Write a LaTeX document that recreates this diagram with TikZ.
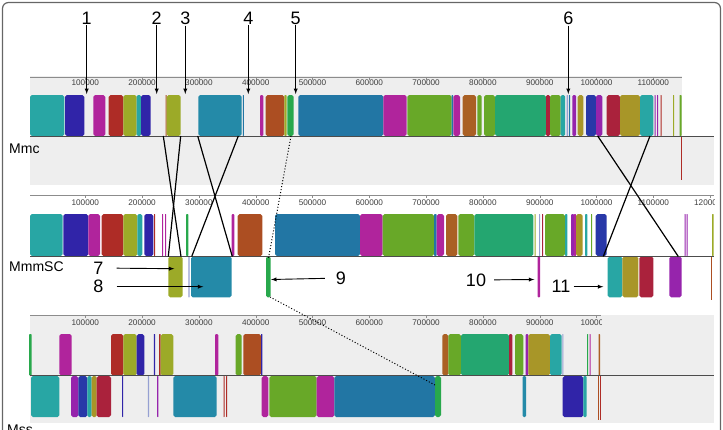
\documentclass[tikz,border=0pt]{standalone}
\usepackage{fontspec}
\setmainfont{Liberation Sans}
\usetikzlibrary{arrows}

\definecolor{tealc}{RGB}{40,166,164}
\definecolor{indigoc}{RGB}{48,36,168}
\definecolor{magc}{RGB}{176,36,156}
\definecolor{redc}{RGB}{174,44,38}
\definecolor{olivec}{RGB}{156,170,40}
\definecolor{steelc}{RGB}{36,138,168}
\definecolor{bluec}{RGB}{34,118,164}
\definecolor{orangec}{RGB}{172,78,34}
\definecolor{greenc}{RGB}{40,168,76}
\definecolor{crimsonc}{RGB}{170,34,60}
\definecolor{seac}{RGB}{36,166,112}
\definecolor{grassc}{RGB}{104,168,40}
\definecolor{mustc}{RGB}{168,150,40}
\definecolor{purpc}{RGB}{150,36,172}
\definecolor{royalc}{RGB}{40,56,168}
\definecolor{brownc}{RGB}{170,96,36}
\definecolor{paleblue}{RGB}{150,160,210}
\definecolor{bgc}{RGB}{238,238,238}

\tikzset{
  ticklab/.style={font=\fontsize{8.2}{9}\selectfont, text=black!75, inner sep=0pt},
  numlab/.style={font=\fontsize{18}{20}\selectfont, inner sep=1pt},
  genome/.style={font=\fontsize{14}{16}\selectfont, anchor=west, inner sep=0pt},
  numarr/.style={-latex, line width=0.9pt},
  synteny/.style={line width=1.2pt},
  moved/.style={dotted, line width=1pt}
}

\begin{document}
\begin{tikzpicture}[x=1pt,y=-1pt]
\useasboundingbox (0,0) rectangle (723,429);

% Frame
\draw[black!60, line width=1.2pt, rounded corners=6pt] (2.5,2.5) rectangle (720.5,445);

% Backgrounds
\fill[bgc] (30,76) rectangle (682,136);
\fill[bgc] (30,136) rectangle (714,185);
\fill[bgc] (30,315) rectangle (714,423);

% Rulers
\draw[black!45] (30,77) -- (682,77);
\draw[black!45] (30,195) -- (714,195);
\draw[black!45] (30,315) -- (601,315);
\foreach \i in {1,...,11} \draw[black!45] ({28.5+56.8*\i},77) -- ++(0,3);
\foreach \i in {1,...,12} \draw[black!45] ({28.5+56.8*\i},195) -- ++(0,3);
\foreach \i in {1,...,10} \draw[black!45] ({28.5+56.8*\i},315) -- ++(0,3);
\foreach \i in {1,...,11} \node[ticklab] (ra\i) at ({28.5+56.8*\i},82.5) {\i00000};
\begin{scope}
\clip (30,190) rectangle (714,210);
\foreach \i in {1,...,12} \node[ticklab] (rb\i) at ({28.5+56.8*\i},202.5) {\i00000};
\end{scope}
\begin{scope}
\clip (30,310) rectangle (601,330);
\foreach \i in {1,...,10} \node[ticklab] (rc\i) at ({28.5+56.8*\i},322.5) {\i00000};
\end{scope}

% Mmc blocks
\foreach \a/\b/\c in {30/64.3/tealc, 65/84.3/indigoc, 93.3/105.3/magc, 108.7/123.3/redc,
  123.3/136.7/olivec, 136.7/141/tealc, 141/150.7/indigoc, 165.5/166.7/orangec, 166.7/180.7/olivec,
  198.3/241.7/steelc, 242.8/243.8/bluec, 260/263.3/magc, 265.7/284.3/orangec, 284.3/286.7/olivec,
  287.3/293.7/greenc, 298.3/383.3/bluec, 383.3/406.7/magc, 407.3/451.7/grassc, 451.7/453/bluec,
  453.3/460/magc, 462.7/476/brownc, 477.3/481.7/grassc, 484/495/grassc, 495/546/seac,
  546/550/crimsonc, 550/560.7/grassc, 560.7/565/tealc, 566.5/568/paleblue, 569/570/bluec,
  572.3/576/purpc, 577.7/583.3/mustc, 586/596/royalc, 596/602.3/purpc, 606.7/620/crimsonc,
  620/640/mustc, 640/653.3/tealc, 654.5/655.5/purpc, 657/658/purpc, 660.5/661.5/redc,
  673/674/olivec, 679.5/681.5/grassc}
  {\pgfmathsetmacro\rc{min(1.8,(\b-\a)/3)}
   \fill[\c, rounded corners=\rc pt] (\a,95) rectangle (\b,136);}
\fill[redc] (680.5,136) rectangle (681.5,180);

% MmmSC blocks
\foreach \a/\b/\c in {30/62.7/tealc, 63.3/88.3/indigoc, 88.3/100/magc, 101.7/123.3/redc,
  123.3/137.3/olivec, 137.3/142.3/tealc, 144.3/153.3/indigoc, 154/155/redc, 162/163/magc,
  165/166/magc, 186/188.3/greenc, 231.7/234.3/magc, 237.7/262.3/orangec, 275/360/bluec,
  360/382.7/magc, 382.7/434/grassc, 434/436.7/bluec, 436.7/444/magc, 446/457.3/brownc,
  458.3/474.3/grassc, 474.3/533.3/seac, 534.5/535.5/olivec, 539/540/paleblue, 542/543/crimsonc,
  545/565/grassc, 565/567.3/tealc, 571/574/purpc, 574/576/magc, 576/582.7/mustc,
  585/587.3/tealc, 591/592/grassc, 595.7/606.7/royalc, 684.5/685.5/purpc, 686.5/687.5/purpc,
  712/713.5/olivec}
  {\pgfmathsetmacro\rc{min(1.8,(\b-\a)/3)}
   \fill[\c, rounded corners=\rc pt] (\a,214) rectangle (\b,256);}
\foreach \a/\b/\c in {168.3/182.7/olivec, 188.3/189.7/paleblue, 191/231.7/steelc,
  266/270.7/greenc, 537.7/540/magc, 607.7/622.3/tealc, 622.3/638.3/mustc,
  639.3/653.3/crimsonc, 669.3/681.7/purpc}
  {\pgfmathsetmacro\rc{min(1.8,(\b-\a)/3)}
   \fill[\c, rounded corners=\rc pt] (\a,256.5) rectangle (\b,297.3);}
\fill[orangec] (711,256) rectangle (712,300);

% Mss blocks
\foreach \a/\b/\c in {29/31.7/greenc, 59.3/71.7/magc, 111/123.3/redc, 123.3/136.7/olivec,
  136.7/144.3/indigoc, 153.8/155/indigoc, 159/160.7/redc, 160.7/173.3/olivec, 215/218.3/magc,
  235.7/241.7/grassc, 243.3/261/orangec, 261/262.3/indigoc, 442.3/448.3/brownc,
  448.3/461/grassc, 461/509/seac, 509/512.3/crimsonc, 515/523.3/grassc, 525.7/528.3/purpc,
  528.3/550/mustc, 550/561.7/tealc, 562.3/563.3/paleblue, 587.2/588.2/greenc,
  589.5/590.5/magc, 598.5/600/brownc}
  {\pgfmathsetmacro\rc{min(1.8,(\b-\a)/3)}
   \fill[\c, rounded corners=\rc pt] (\a,334) rectangle (\b,375.5);}
\foreach \a/\b/\c in {31/59.3/tealc, 71/78.3/purpc, 78.3/87.3/royalc, 87.3/91.7/tealc,
  91.7/96.7/mustc, 96.7/111/crimsonc, 122.2/123.2/indigoc, 147.8/149/paleblue,
  157.2/158.4/purpc, 173.3/216.7/steelc, 223.5/224.5/redc, 226.2/227.2/redc,
  261.7/268.3/magc, 269.3/316.7/grassc, 316.7/334.3/magc, 334.3/435/bluec, 435/441/greenc,
  522.7/526/steelc, 562.7/583.3/indigoc, 583.3/586.7/tealc}
  {\pgfmathsetmacro\rc{min(1.8,(\b-\a)/3)}
   \fill[\c, rounded corners=\rc pt] (\a,376) rectangle (\b,417);}
\fill[orangec] (597.5,375.5) rectangle (598.5,420);
\fill[redc] (599.7,375.5) rectangle (600.7,420);

% Middle lines
\draw[black!70] (30,136) -- (714,136);
\draw[black!70] (30,256) -- (714,256);
\draw[black!70] (30,375.5) -- (714,375.5);

% Synteny links
\draw[synteny] (163.3,136) -- (181,256.5);
\draw[synteny] (180.7,136) -- (168.3,256.5);
\draw[synteny] (197.7,136) -- (232.3,256.5);
\draw[synteny] (238.3,136) -- (191.7,256.5);
\draw[synteny] (597.7,136) -- (678.3,256.5);
\draw[synteny] (650,136) -- (603.3,256.5);
\draw[moved] (291,136) -- (268.5,258);
\draw[moved] (270,297) -- (435,385);

% Genome names
\node[genome] (mmc) at (9,149) {Mmc};
\node[genome] (mmmsc) at (9,267) {MmmSC};
\node[genome] (mss) at (7,430) {Mss};

% Numbered markers
\node[numlab] (l1) at (86.7,18) {1};
\node[numlab] (l2) at (156.7,18) {2};
\node[numlab] (l3) at (185.3,18) {3};
\node[numlab] (l4) at (248.3,18) {4};
\node[numlab] (l5) at (295.7,18) {5};
\node[numlab] (l6) at (568.3,18) {6};
\foreach \n/\x in {1/86.7, 2/156.7, 3/185.3, 4/248.3, 5/295.7, 6/568.3} {
  \coordinate (a\n) at (\x,94);
  \draw[numarr] (l\n) -- (a\n);
}

\node[numlab] (l7) at (98.3,268) {7};
\node[numlab] (l8) at (98.3,286.7) {8};
\node[numlab] (l9) at (341,278) {9};
\node[numlab] (l10) at (476,280) {10};
\node[numlab] (l11) at (561,286.7) {11};
\coordinate (a7) at (174.3,268.7);
\coordinate (a8) at (203.3,286.7);
\coordinate (a9) at (271,279.5);
\coordinate (a10) at (534.3,279.5);
\coordinate (a11) at (603.3,286.7);
\draw[numarr, shorten <=12pt] (l7) -- (a7);
\draw[numarr, shorten <=12pt] (l8) -- (a8);
\draw[numarr, shorten <=10pt] (l9) -- (a9);
\draw[numarr, shorten <=7pt] (l10) -- (a10);
\draw[numarr, shorten <=2pt] (l11) -- (a11);

\end{tikzpicture}
\end{document}
